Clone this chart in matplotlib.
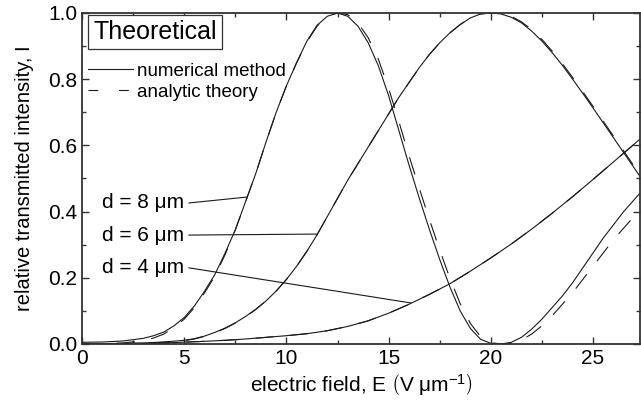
import matplotlib
matplotlib.use("Agg")
import matplotlib.pyplot as plt
from matplotlib.lines import Line2D
from matplotlib.ticker import MultipleLocator, FormatStrFormatter

plt.rcParams['font.family'] = ['Liberation Sans', 'DejaVu Sans']
plt.rcParams['mathtext.fontset'] = 'custom'
plt.rcParams['mathtext.rm'] = 'Liberation Sans'
plt.rcParams['mathtext.it'] = 'Liberation Sans:italic'
plt.rcParams['lines.scale_dashes'] = False

# d = 8 um
E8 = [0, 1, 2, 3, 3.5, 4, 4.5, 5, 5.5, 6, 6.5, 7, 7.5, 8, 8.5, 9, 9.5, 10, 10.5, 11,
      11.5, 12, 12.5, 13, 13.5, 14, 14.5, 15, 15.5, 16, 16.5, 17, 17.5, 18, 18.5, 19,
      19.5, 20, 20.5, 21, 21.5, 22, 22.5, 23, 23.5, 24, 24.5, 25, 25.5, 26, 26.5, 27, 27.5]
num8 = [0.005, 0.006, 0.009, 0.017, 0.025, 0.036, 0.055, 0.08, 0.115, 0.16, 0.21, 0.275,
        0.345, 0.43, 0.515, 0.61, 0.70, 0.78, 0.85, 0.915, 0.963, 0.99, 1.0, 0.99, 0.96,
        0.91, 0.84, 0.75, 0.645, 0.54, 0.44, 0.345, 0.255, 0.172, 0.10, 0.047, 0.014, 0.002,
        0.0, 0.005, 0.02, 0.045, 0.075, 0.11, 0.145, 0.185, 0.23, 0.275, 0.32, 0.36, 0.40,
        0.435, 0.47]
ana8 = [0.0, 0.001, 0.003, 0.01, 0.018, 0.03, 0.05, 0.075, 0.11, 0.155, 0.205, 0.27,
        0.345, 0.43, 0.515, 0.61, 0.70, 0.78, 0.85, 0.913, 0.96, 0.99, 1.0, 0.995, 0.97,
        0.925, 0.86, 0.772, 0.672, 0.568, 0.47, 0.375, 0.284, 0.198, 0.122, 0.062, 0.022, 0.004,
        0.0, 0.002, 0.012, 0.03, 0.055, 0.085, 0.12, 0.155, 0.195, 0.235, 0.275, 0.315,
        0.35, 0.385, 0.42]

# d = 6 um
E6 = [0, 1, 2, 3, 4, 5, 5.5, 6, 6.5, 7, 7.5, 8, 8.5, 9, 9.5, 10, 10.5, 11, 11.5, 12,
      12.5, 13, 13.5, 14, 14.5, 15, 15.5, 16, 16.5, 17, 17.5, 18, 18.5, 19, 19.5, 20,
      20.5, 21, 21.5, 22, 22.5, 23, 23.5, 24, 24.5, 25, 25.5, 26, 26.5, 27, 27.5]
num6 = [0.0, 0.001, 0.002, 0.003, 0.006, 0.011, 0.016, 0.024, 0.035, 0.048, 0.064, 0.083,
        0.105, 0.13, 0.16, 0.195, 0.235, 0.28, 0.33, 0.385, 0.44, 0.495, 0.545, 0.595, 0.645,
        0.695, 0.745, 0.79, 0.835, 0.875, 0.91, 0.94, 0.965, 0.985, 0.997, 1.0, 0.997, 0.987,
        0.97, 0.945, 0.915, 0.88, 0.842, 0.80, 0.757, 0.713, 0.668, 0.623, 0.578, 0.533, 0.488]
ana6 = [0.0, 0.0, 0.001, 0.002, 0.005, 0.01, 0.015, 0.023, 0.034, 0.047, 0.063, 0.082,
        0.104, 0.13, 0.16, 0.195, 0.235, 0.28, 0.33, 0.385, 0.44, 0.495, 0.545, 0.595, 0.645,
        0.695, 0.745, 0.79, 0.835, 0.875, 0.91, 0.94, 0.965, 0.985, 0.997, 1.0, 0.998, 0.99,
        0.973, 0.95, 0.92, 0.885, 0.847, 0.805, 0.762, 0.718, 0.673, 0.628, 0.583, 0.538, 0.493]

# d = 4 um
E4 = [0, 2, 4, 6, 7, 8, 9, 10, 11, 12, 13, 14, 15, 16, 17, 18, 19, 20, 21, 22, 23, 24,
      25, 26, 27, 27.5]
num4 = [0.0, 0.001, 0.003, 0.008, 0.011, 0.015, 0.02, 0.025, 0.031, 0.04, 0.053, 0.07,
        0.093, 0.12, 0.15, 0.182, 0.22, 0.26, 0.302, 0.347, 0.395, 0.445, 0.497, 0.55, 0.603,
        0.63]
ana4 = num4

labels = ['d = 8 \u03bcm', 'd = 6 \u03bcm', 'd = 4 \u03bcm']
label_pos = [(0.98, 0.426), (0.98, 0.329), (0.98, 0.23)]
label_tip = [(8.09, 0.444), (11.5, 0.332), (16.08, 0.124)]

fig = plt.figure(figsize=(6.41, 4.09), dpi=100)
ax = fig.add_axes([0.128, 0.159, 0.8705, 0.8093])

lc = '#1a1a1a'
for E, yn, ya in [(E8, num8, ana8), (E6, num6, ana6), (E4, num4, ana4)]:
    ax.plot(E, yn, color=lc, lw=0.8)
    ax.plot(E, ya, color=lc, lw=0.8, dashes=(13, 12))

for lab, (tx, ty), (px, py) in zip(labels, label_pos, label_tip):
    ax.text(tx, ty, lab, fontsize=15, va='center', ha='left')
    ax.plot([tx + 4.25, px], [ty, py], color=lc, lw=0.8)

ax.text(0.55, 0.941, 'Theoretical', fontsize=18, va='center', ha='left',
        bbox=dict(boxstyle='square,pad=0.2', fc='white', ec='#333333', lw=0.9))

handles = [Line2D([], [], color=lc, lw=0.8),
           Line2D([], [], color=lc, lw=0.8, dashes=(7, 15))]
ax.legend(handles, ['numerical method', 'analytic theory'], loc='upper left',
          bbox_to_anchor=(0.011, 0.85), frameon=False, fontsize=13.5,
          handlelength=2.4, handletextpad=0.2, labelspacing=0.2,
          borderaxespad=0, borderpad=0)

ax.set_xlim(0, 27.3)
ax.set_ylim(0, 1.0)
ax.xaxis.set_major_locator(MultipleLocator(5))
ax.xaxis.set_minor_locator(MultipleLocator(2.5))
ax.yaxis.set_major_locator(MultipleLocator(0.2))
ax.yaxis.set_minor_locator(MultipleLocator(0.1))
ax.yaxis.set_major_formatter(FormatStrFormatter('%.1f'))
ax.tick_params(which='both', direction='in', top=True, right=True, labelsize=15, color='#333333')
ax.tick_params(which='major', length=5, width=1)
ax.tick_params(which='minor', length=3, width=1)
for s in ax.spines.values():
    s.set_linewidth(1.3)
    s.set_color('#333333')

ax.set_xlabel(r'electric field, E $\left(\mathrm{V\ \mu m^{-1}}\right)$', fontsize=15, labelpad=3)
ax.set_ylabel('relative transmitted intensity, I', fontsize=14.5, labelpad=10)

fig.savefig('out.png', dpi=100)
